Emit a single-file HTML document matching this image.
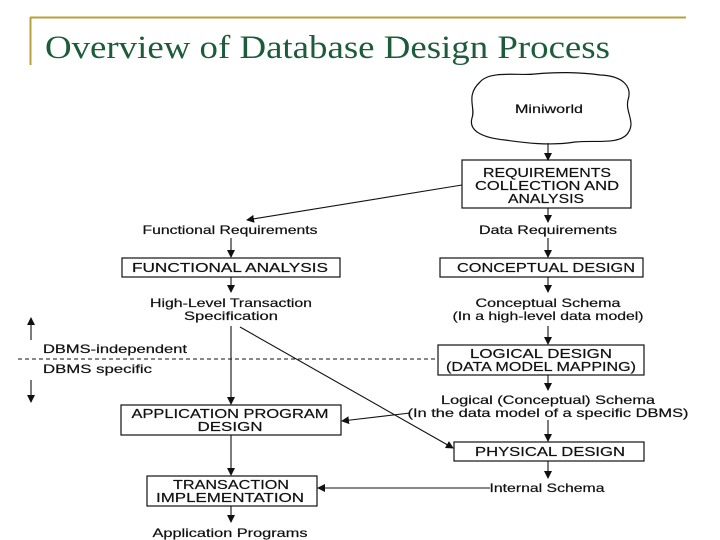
<!DOCTYPE html>
<html><head><meta charset="utf-8"><style>
html,body{margin:0;padding:0;background:#fff;}
svg{display:block;}
.t{font-family:"Liberation Sans",Arial,sans-serif;font-size:12px;fill:#111;text-anchor:middle;stroke:#111;stroke-width:0.2;}
.b{font-family:"Liberation Sans",Arial,sans-serif;font-size:13px;fill:#111;text-anchor:middle;stroke:#111;stroke-width:0.2;}
</style></head><body>
<svg width="720" height="540" viewBox="0 0 720 540" xmlns="http://www.w3.org/2000/svg">
<defs><marker id="a" markerWidth="8" markerHeight="8" refX="7" refY="4" orient="auto" markerUnits="userSpaceOnUse"><path d="M0,0 L8,4 L0,8 z" fill="#111"/></marker></defs>
<line x1="30" y1="17.5" x2="686" y2="17.5" stroke="#b8a13a" stroke-width="2"/>
<line x1="30.5" y1="17" x2="30.5" y2="65" stroke="#b8a13a" stroke-width="2"/>
<text x="45" y="58" font-family="Liberation Serif,serif" font-size="33" fill="#1d5c3a" textLength="565" lengthAdjust="spacingAndGlyphs">Overview of Database Design Process</text>
<g stroke="#111" stroke-width="1.2" fill="none">
<path d="M480,82 C490,70 520,76 535,74 C555,72 580,72 600,75 C625,76 632,88 628,100 C625,112 636,122 628,133 C620,145 595,140 575,142 C550,146 525,143 505,140 C485,138 468,132 472,118 C476,108 465,96 480,82 Z"/>
<rect x="462" y="160" width="169" height="48"/>
<rect x="122" y="258" width="218" height="19"/>
<rect x="440" y="258" width="203" height="19"/>
<rect x="438" y="345" width="206" height="30"/>
<rect x="121" y="405" width="220" height="30"/>
<rect x="454" y="442" width="190" height="19"/>
<rect x="147" y="476" width="170" height="30"/>
</g>
<g stroke="#111" stroke-width="1.1" marker-end="url(#a)">
<line x1="548" y1="143" x2="548" y2="160"/>
<line x1="462" y1="185" x2="247" y2="220"/>
<line x1="548" y1="208" x2="548" y2="222"/>
<line x1="231" y1="238" x2="231" y2="257"/>
<line x1="548" y1="238" x2="548" y2="257"/>
<line x1="231" y1="277" x2="231" y2="292"/>
<line x1="548" y1="277" x2="548" y2="292"/>
<line x1="548" y1="326" x2="548" y2="344"/>
<line x1="548" y1="375" x2="548" y2="390"/>
<line x1="231" y1="326" x2="231" y2="404"/>
<line x1="410" y1="413" x2="342" y2="421"/>
<line x1="240" y1="327" x2="453" y2="448"/>
<line x1="548" y1="420" x2="548" y2="441"/>
<line x1="548" y1="461" x2="548" y2="478"/>
<line x1="490" y1="488" x2="318" y2="488"/>
<line x1="231" y1="435" x2="231" y2="475"/>
<line x1="231" y1="506" x2="231" y2="522"/>
<line x1="31" y1="340" x2="31" y2="318"/>
<line x1="31" y1="380" x2="31" y2="402"/>
</g>
<line x1="18" y1="359" x2="436" y2="359" stroke="#111" stroke-width="1" stroke-dasharray="4,3"/>
<text class="t" x="549" y="113" textLength="68" lengthAdjust="spacingAndGlyphs">Miniworld</text>
<text class="b" x="547" y="177" textLength="128" lengthAdjust="spacingAndGlyphs">REQUIREMENTS</text>
<text class="b" x="547" y="190" textLength="144" lengthAdjust="spacingAndGlyphs">COLLECTION AND</text>
<text class="b" x="546" y="203" textLength="76" lengthAdjust="spacingAndGlyphs">ANALYSIS</text>
<text class="t" x="230" y="234" textLength="175" lengthAdjust="spacingAndGlyphs">Functional Requirements</text>
<text class="t" x="548" y="234" textLength="138" lengthAdjust="spacingAndGlyphs">Data Requirements</text>
<text class="b" x="230" y="272" textLength="196" lengthAdjust="spacingAndGlyphs">FUNCTIONAL ANALYSIS</text>
<text class="b" x="546" y="272" textLength="178" lengthAdjust="spacingAndGlyphs">CONCEPTUAL DESIGN</text>
<text class="t" x="231" y="307" textLength="162" lengthAdjust="spacingAndGlyphs">High-Level Transaction</text>
<text class="t" x="231" y="320" textLength="94" lengthAdjust="spacingAndGlyphs">Specification</text>
<text class="t" x="548" y="307" textLength="145" lengthAdjust="spacingAndGlyphs">Conceptual Schema</text>
<text class="t" x="548" y="320" textLength="191" lengthAdjust="spacingAndGlyphs">(In a high-level data model)</text>
<text class="t" x="43" y="353" style="text-anchor:start" textLength="144" lengthAdjust="spacingAndGlyphs">DBMS-independent</text>
<text class="t" x="43" y="373" style="text-anchor:start" textLength="109" lengthAdjust="spacingAndGlyphs">DBMS specific</text>
<text class="b" x="541" y="358" textLength="142" lengthAdjust="spacingAndGlyphs">LOGICAL DESIGN</text>
<text class="b" x="541" y="371" textLength="190" lengthAdjust="spacingAndGlyphs">(DATA MODEL MAPPING)</text>
<text class="t" x="548" y="404" textLength="214" lengthAdjust="spacingAndGlyphs">Logical (Conceptual) Schema</text>
<text class="t" x="548" y="417" textLength="281" lengthAdjust="spacingAndGlyphs">(In the data model of a specific DBMS)</text>
<text class="b" x="230" y="418" textLength="197" lengthAdjust="spacingAndGlyphs">APPLICATION PROGRAM</text>
<text class="b" x="230" y="431" textLength="65" lengthAdjust="spacingAndGlyphs">DESIGN</text>
<text class="b" x="550" y="456" textLength="150" lengthAdjust="spacingAndGlyphs">PHYSICAL DESIGN</text>
<text class="t" x="547" y="492" textLength="115" lengthAdjust="spacingAndGlyphs">Internal Schema</text>
<text class="b" x="231" y="489" textLength="116" lengthAdjust="spacingAndGlyphs">TRANSACTION</text>
<text class="b" x="230" y="502" textLength="148" lengthAdjust="spacingAndGlyphs">IMPLEMENTATION</text>
<text class="t" x="230" y="537" textLength="155" lengthAdjust="spacingAndGlyphs">Application Programs</text>
</svg>
</body></html>
